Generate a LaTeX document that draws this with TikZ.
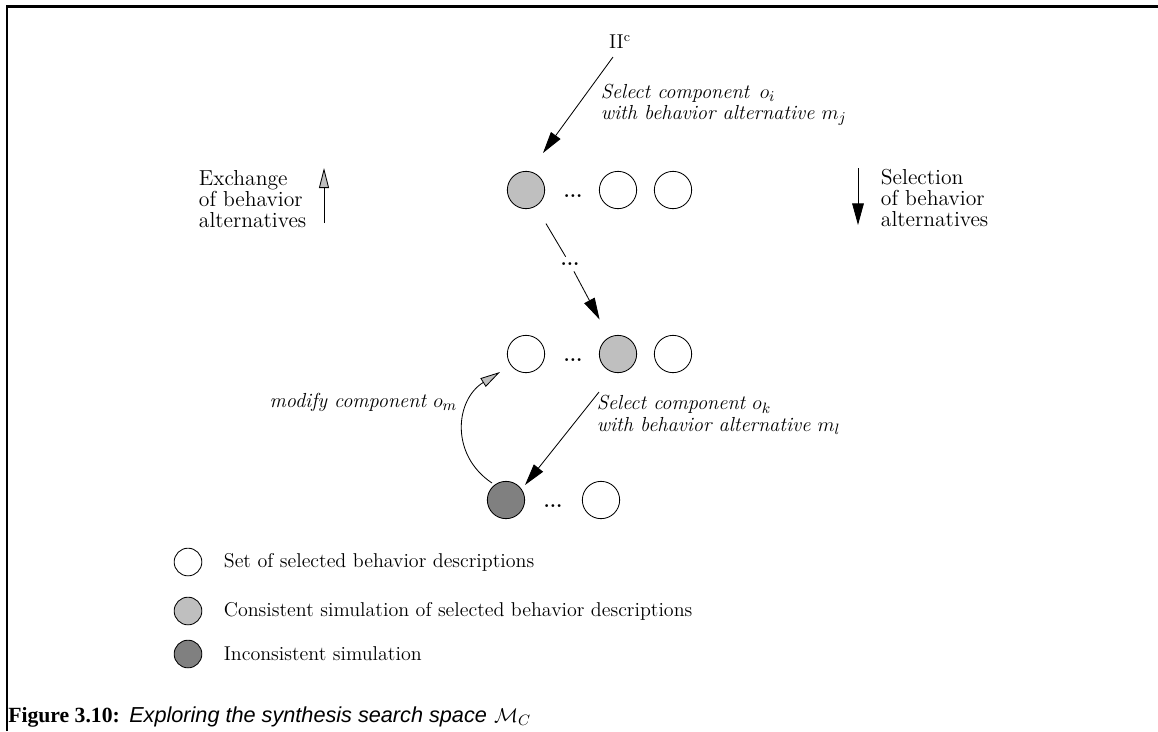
\documentclass[tikz,border=0pt]{standalone}
\usepackage{fontspec}
\usetikzlibrary{arrows.meta,calc}
\newfontfamily\capserif{Liberation Serif}
\newfontfamily\capsans{Liberation Sans}
\definecolor{consgray}{gray}{0.75}
\definecolor{incgray}{gray}{0.5}
\begin{document}
\begin{tikzpicture}[x=0.6pt, y=-0.6pt,
                circ/.style={circle, draw, line width=0.5pt, minimum size=22.4pt, inner sep=0pt},
                conscirc/.style={circ, fill=consgray},
                inccirc/.style={circ, fill=incgray},
                keycirc/.style={circle, draw, line width=0.5pt, minimum size=16.6pt, inner sep=0pt},
                rowdots/.style={font=\fontsize{12}{12}\selectfont\bfseries},
                selarrow/.style={-{Triangle[length=13pt, width=7pt]}, line width=0.5pt},
                exarrow/.style={-{Triangle[length=12pt, width=6pt, fill=consgray]}, line width=0.5pt},
                sidetext/.style={anchor=west, align=left, font=\fontsize{13}{12.6}\selectfont},
                steptext/.style={anchor=west, align=left, font=\fontsize{12.2}{12.8}\selectfont\itshape},
                keytext/.style={anchor=west, font=\fontsize{12}{14}\selectfont}]
                \useasboundingbox (0,0) rectangle (1158,731);
                \draw[line width=1.4pt] (7,731) -- (7,6.5) -- (1158,6.5);
                \node (pic) at (620,42) {\fontsize{12}{14}\selectfont II\textsuperscript{c}};
                \node[conscirc] (g1) at (526,190) {};
                \node[rowdots] (dotsA) at (573,196) {...};
                \node[circ] (w1a) at (618,190) {};
                \node[circ] (w1b) at (673,190) {};
                \node[steptext] (lab1) at (595,105) {Select component \,$o_i$\\with behavior alternative $m_j$};
                \draw[selarrow] ($(pic)+(-7,15)$) -- ($(g1)+(17,-37)$);
                \node[sidetext] (exch) at (193,199) {Exchange\\of behavior\\alternatives};
                \coordinate (exbot) at (324,223);
                \coordinate (extop) at (324,168);
                \draw[exarrow] (exbot) -- (extop);
                \node[sidetext] (selc) at (875,198) {Selection\\of behavior\\alternatives};
                \coordinate (seltop) at (858,168);
                \coordinate (selbot) at (858,225);
                \draw[selarrow] (seltop) -- (selbot);
                \node[rowdots] (mdots) at (570,264) {...};
                \node[circ] (w2a) at (526,354) {};
                \node[rowdots] (dotsB) at (573,360) {...};
                \node[conscirc] (g2) at (618,354) {};
                \node[circ] (w2b) at (673,354) {};
                \draw[line width=0.5pt, shorten <=12pt] (g1) -- (mdots);
                \draw[selarrow, shorten >=12pt] (mdots) -- (g2);
                \node[steptext] (lab2) at (591,415) {Select component $o_k$\\with behavior alternative $m_l$};
                \node[inccirc] (d3) at (506,500) {};
                \node[rowdots] (dotsC) at (553,506) {...};
                \node[circ] (w3) at (601,500) {};
                \draw[selarrow] ($(g2)+(-19,38)$) -- ($(d3)+(19,-15)$);
                \node[steptext, anchor=east] (mod) at (463,402) {modify component $o_m$};
                \draw[exarrow] ($(d3)+(-14,-17)$) .. controls ($(d3)+(-56,-45)$) and ($(w2a)+(-71,46)$) .. ($(w2a)+(-26,18)$);
                \node[keycirc] (lc1) at (188,562) {};
                \node[keytext] (lt1) at (218,562) {Set of selected behavior descriptions};
                \node[keycirc, fill=consgray] (lc2) at (188,611) {};
                \node[keytext] (lt2) at (218,611) {Consistent simulation of selected behavior descriptions};
                \node[keycirc, fill=incgray] (lc3) at (188,654) {};
                \node[keytext] (lt3) at (218,654) {Inconsistent simulation};
                \node[anchor=base west, inner sep=0pt, font=\fontsize{13}{15}\selectfont] (cap) at (8,722)
                    {{\capserif\bfseries Figure 3.10:} {\capsans\itshape Exploring the synthesis search space} $\mathcal{M}_C$};
            \end{tikzpicture}
\end{document}
